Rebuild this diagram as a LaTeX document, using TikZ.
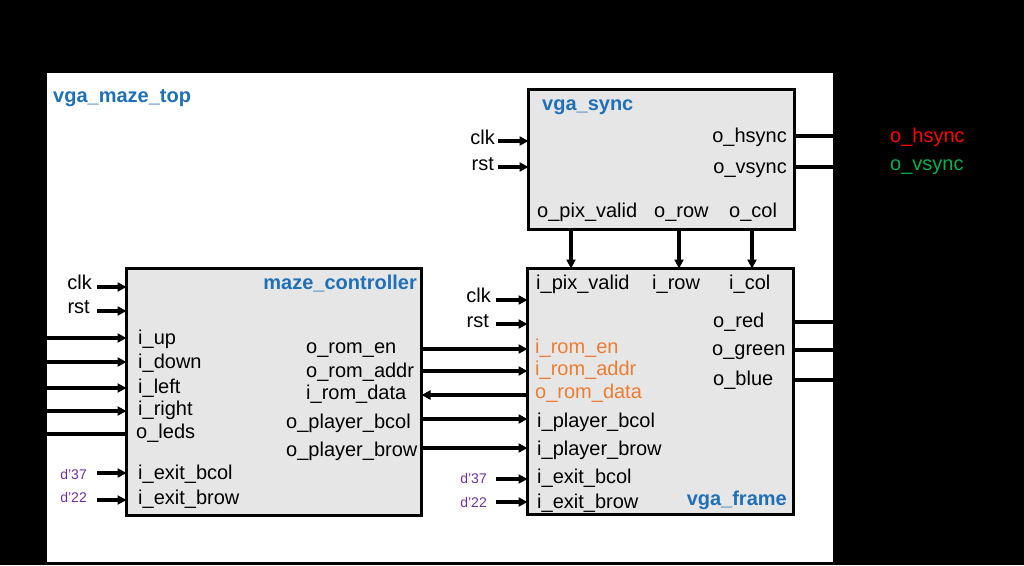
\documentclass[tikz,border=0pt]{standalone}
\usepackage{fontspec}
\setmainfont{Liberation Sans}
\usetikzlibrary{arrows.meta}
\definecolor{tblue}{HTML}{1F70B8}
\definecolor{torange}{HTML}{ED7D31}
\definecolor{tpurple}{HTML}{7030A0}
\definecolor{tred}{HTML}{FF0000}
\definecolor{tgreen}{HTML}{00B050}
\definecolor{boxfill}{HTML}{E6E6E6}
\begin{document}
\begin{tikzpicture}[x=1pt,y=-1pt,
  blk/.style={draw=black, line width=3.5pt, fill=boxfill, inner sep=0pt, outer sep=0pt},
  lbl/.style={font=\fontsize{20}{24}\selectfont, inner sep=0pt, text height=14pt, text depth=4pt},
  ttl/.style={font=\fontsize{20}{24}\selectfont\bfseries, text=tblue, inner sep=0pt},
  orn/.style={lbl, text=torange},
  dv/.style={font=\fontsize{14}{16}\selectfont, text=tpurple, inner sep=0pt},
  sig/.style={line width=3.2pt, -{Triangle[length=9pt,width=9pt]}},
  wire/.style={line width=3.2pt},
]
\useasboundingbox (0,0) rectangle (1024,565);
\fill[black] (0,0) rectangle (1024,565);
\fill[white] (47,73) rectangle (833,562);

% boxes
\node[blk, minimum width=266pt, minimum height=140pt] (sync) at (661.5,159.5) {};
\node[blk, minimum width=295pt, minimum height=247pt] (mc) at (274,392) {};
\node[blk, minimum width=266pt, minimum height=246pt] (frame) at (660.5,391.5) {};

% titles
\node[ttl, anchor=base west] (ttop) at (53,102) {vga\_maze\_top};
\node[ttl, anchor=base west] (tsync) at (542,110) {vga\_sync};
\node[ttl, anchor=base east] (tmc) at (417,289) {maze\_controller};
\node[ttl, anchor=base east] (tframe) at (787,505) {vga\_frame};

% outside outputs
\node[lbl, anchor=west, text=tred] (ohs) at (890,137) {o\_hsync};
\node[lbl, anchor=west, text=tgreen] (ovs) at (890,165) {o\_vsync};

% vga_sync labels
\node[lbl, anchor=east] (sclk) at (495,139) {clk};
\node[lbl, anchor=east] (srst) at (494,165) {rst};
\node[lbl, anchor=east] (shs) at (787,137) {o\_hsync};
\node[lbl, anchor=east] (svs) at (787,168) {o\_vsync};
\node[lbl, anchor=west] (spv) at (537,212) {o\_pix\_valid};
\node[lbl, anchor=west] (srow) at (654,212) {o\_row};
\node[lbl, anchor=west] (scol) at (729,212) {o\_col};

% vga_frame labels
\node[lbl, anchor=west] (fpv) at (536,284) {i\_pix\_valid};
\node[lbl, anchor=west] (frow) at (652,284) {i\_row};
\node[lbl, anchor=west] (fcol) at (729,284) {i\_col};
\node[lbl, anchor=east] (fclk) at (491,297) {clk};
\node[lbl, anchor=east] (frst) at (489,322) {rst};
\node[orn, anchor=west] (fren) at (535,348) {i\_rom\_en};
\node[orn, anchor=west] (fradr) at (535,370) {i\_rom\_addr};
\node[orn, anchor=west] (frdat) at (535,393) {o\_rom\_data};
\node[lbl, anchor=west] (fpbc) at (537,422) {i\_player\_bcol};
\node[lbl, anchor=west] (fpbr) at (537,450) {i\_player\_brow};
\node[lbl, anchor=west] (febc) at (537,478) {i\_exit\_bcol};
\node[lbl, anchor=west] (febr) at (537,503) {i\_exit\_brow};
\node[lbl, anchor=west] (fred) at (713,322) {o\_red};
\node[lbl, anchor=west] (fgrn) at (712,350) {o\_green};
\node[lbl, anchor=west] (fblu) at (713,380) {o\_blue};
\node[dv, anchor=east] (fd37) at (487,478) {d'37};
\node[dv, anchor=east] (fd22) at (487,502) {d'22};

% maze_controller labels
\node[lbl, anchor=east] (mclk) at (92,284) {clk};
\node[lbl, anchor=east] (mrst) at (90,308) {rst};
\node[lbl, anchor=west] (mup) at (138,339) {i\_up};
\node[lbl, anchor=west] (mdn) at (138,363) {i\_down};
\node[lbl, anchor=west] (mlf) at (138,388) {i\_left};
\node[lbl, anchor=west] (mrt) at (138,410) {i\_right};
\node[lbl, anchor=west] (mled) at (136,433) {o\_leds};
\node[lbl, anchor=west] (mebc) at (138,474) {i\_exit\_bcol};
\node[lbl, anchor=west] (mebr) at (138,499) {i\_exit\_brow};
\node[lbl, anchor=west] (mren) at (306,348) {o\_rom\_en};
\node[lbl, anchor=west] (mradr) at (306,372) {o\_rom\_addr};
\node[lbl, anchor=west] (mrdat) at (306,394) {i\_rom\_data};
\node[lbl, anchor=west] (mpbc) at (286,423) {o\_player\_bcol};
\node[lbl, anchor=west] (mpbr) at (286,451) {o\_player\_brow};
\node[dv, anchor=east] (md37) at (87,474) {d'37};
\node[dv, anchor=east] (md22) at (87,497) {d'22};

% free-end coordinates
\coordinate (sclkS) at (498,141);
\coordinate (srstS) at (498,167);
\coordinate (fclkS) at (496,300);
\coordinate (frstS) at (496,324);
\coordinate (fd37S) at (496,479);
\coordinate (fd22S) at (496,502);
\coordinate (mclkS) at (97,287);
\coordinate (mrstS) at (97,311);
\coordinate (md37S) at (97,473);
\coordinate (md22S) at (97,500);
\coordinate (mupS) at (47,338);
\coordinate (mdnS) at (47,362);
\coordinate (mlfS) at (47,388);
\coordinate (mrtS) at (47,411);
\coordinate (mledS) at (47,434);
\coordinate (hsE) at (833,136);
\coordinate (vsE) at (833,167);
\coordinate (redE) at (833,322);
\coordinate (grnE) at (833,350);
\coordinate (bluE) at (833,380);
\coordinate (xpv) at (571,0);
\coordinate (xrow) at (679,0);
\coordinate (xcol) at (752,0);

% vga_sync connectors
\draw[sig] (sclkS) -- (sclkS -| sync.west);
\draw[sig] (srstS) -- (srstS -| sync.west);
\draw[wire] (hsE -| sync.east) -- (hsE);
\draw[wire] (vsE -| sync.east) -- (vsE);
\draw[sig] (xpv |- sync.south) -- (xpv |- frame.north);
\draw[sig] (xrow |- sync.south) -- (xrow |- frame.north);
\draw[sig] (xcol |- sync.south) -- (xcol |- frame.north);

% vga_frame connectors
\draw[sig] (fclkS) -- (fclkS -| frame.west);
\draw[sig] (frstS) -- (frstS -| frame.west);
\draw[sig] (fd37S) -- (fd37S -| frame.west);
\draw[sig] (fd22S) -- (fd22S -| frame.west);
\draw[wire] (redE -| frame.east) -- (redE);
\draw[wire] (grnE -| frame.east) -- (grnE);
\draw[wire] (bluE -| frame.east) -- (bluE);

% between blocks
\draw[sig] (mc.east |- 0,349) -- (frame.west |- 0,349);
\draw[sig] (mc.east |- 0,371) -- (frame.west |- 0,371);
\draw[sig] (frame.west |- 0,395) -- (mc.east |- 0,395);
\draw[sig] (mc.east |- 0,419) -- (frame.west |- 0,419);
\draw[sig] (mc.east |- 0,448) -- (frame.west |- 0,448);

% maze_controller connectors
\draw[sig] (mclkS) -- (mclkS -| mc.west);
\draw[sig] (mrstS) -- (mrstS -| mc.west);
\draw[sig] (mupS) -- (mupS -| mc.west);
\draw[sig] (mdnS) -- (mdnS -| mc.west);
\draw[sig] (mlfS) -- (mlfS -| mc.west);
\draw[sig] (mrtS) -- (mrtS -| mc.west);
\draw[wire] (mledS) -- (mledS -| mc.west);
\draw[sig] (md37S) -- (md37S -| mc.west);
\draw[sig] (md22S) -- (md22S -| mc.west);
\end{tikzpicture}
\end{document}
